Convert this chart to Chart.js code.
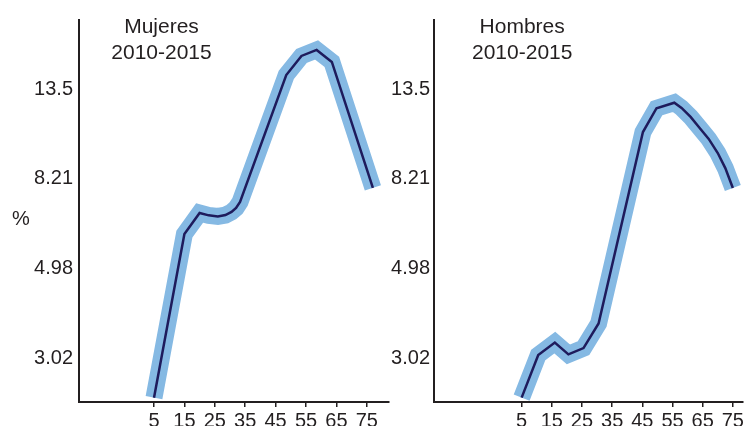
<!DOCTYPE html>
<html><head><meta charset="utf-8">
<script src="https://cdn.jsdelivr.net/npm/chart.js@4.4.0/dist/chart.umd.min.js"></script>
<style>
html,body{margin:0;padding:0;width:746px;height:426px;overflow:hidden;background:#fff;}
.box{position:absolute;top:0;height:440px;}
</style></head><body>
<div class="box" style="left:0;width:392px"><canvas id="c1"></canvas></div>
<div class="box" style="left:380px;width:366px"><canvas id="c2"></canvas></div>
<script>
const xTicks = [5, 15, 25, 35, 45, 55, 65, 75];
const yTickValues = [3.02, 4.98, 8.21, 13.5];
const yTickLabels = ["3.02", "4.98", "8.21", "13.5"];
const agesMujeres = [5, 15, 20, 23, 26, 28.5, 30.5, 32, 33.3, 48.5, 53.5, 58.5, 63.5, 77];
const valuesMujeres = [2.43, 6.03, 6.78, 6.69, 6.65, 6.70, 6.82, 6.97, 7.21, 14.59, 16.22, 16.77, 15.69, 7.79];
const agesHombres = [5, 10.5, 16, 20.5, 25.5, 30.5, 45.2, 49.7, 55.6, 58, 61, 64, 67, 70, 72.5, 75];
const valuesHombres = [2.43, 3.08, 3.30, 3.09, 3.20, 3.67, 10.63, 12.13, 12.51, 12.15, 11.56, 10.87, 10.23, 9.46, 8.70, 7.79];
const titleMujeres = ["Mujeres", "2010-2015"];
const titleHombres = ["Hombres", "2010-2015"];
const yAxisTitle = "%";

const FONT = '"Liberation Sans", Arial, sans-serif';
const INK = '#231f20';

const textPlugin = {
  id: 'panelText',
  afterDraw(chart, args, o) {
    const ctx = chart.ctx;
    ctx.save();
    ctx.fillStyle = INK;
    ctx.textAlign = 'center';
    ctx.textBaseline = 'alphabetic';
    ctx.font = '21px ' + FONT;
    ctx.fillText(o.lines[0], o.x, 33);
    ctx.fillText(o.lines[1], o.x, 59);
    if (o.yTitle) {
      ctx.font = '20px ' + FONT;
      ctx.fillText(o.yTitle, 21, 225);
    }
    ctx.restore();
  }
};

function makeChart(id, ages, values, xMin, xMax, yAxisWidth, padRight, tickPad, textOpts) {
  const pts = ages.map((a, i) => ({x: a, y: values[i]}));
  return new Chart(document.getElementById(id), {
    type: 'line',
    data: {datasets: [
      {data: pts, borderColor: '#1e1b5c', borderWidth: 2.5, pointRadius: 0, tension: 0, order: 0, clip: false, borderJoinStyle: 'miter'},
      {data: pts, borderColor: '#85b9e3', borderWidth: 17, pointRadius: 0, tension: 0, order: 1, clip: false, borderJoinStyle: 'miter', borderCapStyle: 'butt'}
    ]},
    options: {
      responsive: true, maintainAspectRatio: false, animation: false,
      layout: {autoPadding: false, padding: {top: 20, right: padRight, left: 0, bottom: 0}},
      plugins: {legend: {display: false}, tooltip: {enabled: false}, panelText: textOpts},
      scales: {
        x: {
          type: 'linear', min: xMin, max: xMax,
          afterBuildTicks: s => { s.ticks = xTicks.map(v => ({value: v})); },
          afterFit: s => { s.height = 38; },
          grid: {display: true, drawOnChartArea: false, drawTicks: true, tickLength: 5, color: INK, lineWidth: 1.5},
          border: {display: true, color: INK, width: 2},
          ticks: {color: INK, font: {family: FONT, size: 20}, padding: 2, maxRotation: 0, autoSkip: false,
                  callback: v => String(v)}
        },
        y: {
          type: 'logarithmic', min: 2.372, max: 19.806,
          afterBuildTicks: s => { s.ticks = yTickValues.map(v => ({value: v})); },
          afterFit: s => { s.width = yAxisWidth; },
          grid: {display: false, drawTicks: false, tickLength: 0},
          border: {display: true, color: INK, width: 2},
          ticks: {color: INK, font: {family: FONT, size: 20}, padding: tickPad, autoSkip: false,
                  callback: (v, i) => yTickLabels[yTickValues.indexOf(v)] ?? yTickLabels[i]}
        }
      }
    },
    plugins: [textPlugin]
  });
}

makeChart('c1', agesMujeres, valuesMujeres, -19.67, 82.3, 79, 3, 6,
  {lines: titleMujeres, x: 161.5, yTitle: yAxisTitle});
makeChart('c2', agesHombres, valuesHombres, -24.05, 78.26, 54, 1, 4,
  {lines: titleHombres, x: 142.2, yTitle: null});
</script>
</body></html>
